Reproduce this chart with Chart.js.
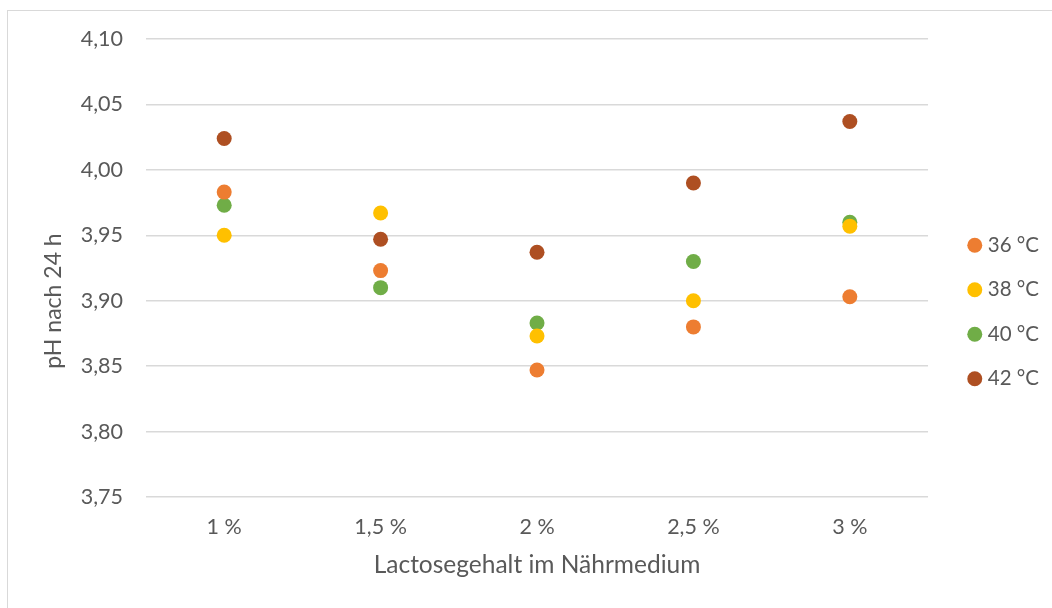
<!DOCTYPE html>
<html>
<head>
<meta charset="utf-8">
<script src="https://cdn.jsdelivr.net/npm/chart.js@4/dist/chart.umd.min.js"></script>
<style>
	html, body { margin: 0; padding: 0; background: #fff; }
	#frame {
		position: absolute; left: 7px; top: 10px;
		width: 1100px; height: 700px;
		border: 1px solid #d9d9d9;
	}
	#wrap { position: absolute; left: 0; top: 0; width: 1052px; height: 608px; }
</style>
</head>
<body>
<div id="frame"></div>
<div id="wrap"><canvas id="myChart"></canvas></div>
<script>
const categories = ['1 %', '1,5 %', '2 %', '2,5 %', '3 %'];
const seriesNames = ['36 °C', '38 °C', '40 °C', '42 °C'];
const ph36 = [3.983, 3.923, 3.847, 3.880, 3.903];
const ph38 = [3.950, 3.967, 3.873, 3.900, 3.957];
const ph40 = [3.973, 3.910, 3.883, 3.930, 3.960];
const ph42 = [4.024, 3.947, 3.937, 3.990, 4.037];
const yTicks = [3.75, 3.80, 3.85, 3.90, 3.95, 4.00, 4.05, 4.10];
const colors = ['#ED7D31', '#FFC000', '#70AD47', '#AE4F22'];

const font = 'Lato, "Open Sans", sans-serif';
const textColor = '#595959';
const yTitle = 'pH nach 24 h';

// y axis title, drawn a bit below the plot centre like in the original
const yTitlePlugin = {
	id: 'yTitle',
	afterDraw(chart) {
		const { ctx, chartArea } = chart;
		ctx.save();
		ctx.translate(54, (chartArea.top + chartArea.bottom) / 2 + 33);
		ctx.rotate(-Math.PI / 2);
		ctx.font = '23px ' + font;
		ctx.fillStyle = textColor;
		ctx.textAlign = 'center';
		ctx.textBaseline = 'middle';
		ctx.fillText(yTitle, 0, 0);
		ctx.restore();
	}
};

const datasets = [ph36, ph38, ph40, ph42].map((values, i) => ({
	label: seriesNames[i],
	data: values,
	showLine: false,
	backgroundColor: colors[i],
	borderColor: colors[i],
	pointRadius: 7.5,
	pointHoverRadius: 7.5,
	pointBorderWidth: 0
}));

new Chart(document.getElementById('myChart'), {
	type: 'line',
	data: { labels: categories, datasets: datasets },
	plugins: [yTitlePlugin],
	options: {
		responsive: true,
		maintainAspectRatio: false,
		animation: false,
		layout: { padding: { top: 16, right: 3, bottom: 0, left: 0 } },
		plugins: {
			tooltip: { enabled: false },
			// empty title only reserves the space above the plot
			title: { display: true, text: '', padding: 0, font: { size: 10, lineHeight: '23px' } },
			legend: {
				position: 'right',
				labels: {
					usePointStyle: true,
					pointStyle: 'circle',
					boxWidth: 5.5,
					boxHeight: 10.6,
					padding: 24,
					color: textColor,
					font: { family: font, size: 20.5 }
				}
			}
		},
		scales: {
			x: {
				offset: true,
				grid: { display: false, drawTicks: false },
				border: { display: false },
				afterFit: (scale) => { scale.height = 111; },
				ticks: { color: textColor, padding: 17, font: { family: font, size: 21.5 } },
				title: {
					display: true,
					text: 'Lactosegehalt im Nährmedium',
					color: textColor,
					padding: { top: 0, bottom: 28 },
					font: { family: font, size: 24.5 }
				}
			},
			y: {
				min: 3.75,
				max: 4.10,
				afterBuildTicks: (scale) => { scale.ticks = yTicks.map(v => ({ value: v })); },
				afterFit: (scale) => { scale.width = 146; },
				grid: { color: '#d9d9d9', lineWidth: 1.5, drawTicks: false },
				border: { display: false },
				ticks: {
					color: textColor,
					padding: 23,
					font: { family: font, size: 21.5 },
					callback: (v) => Number(v).toFixed(2).replace('.', ',')
				}
			},
			// spacer between plot and legend
			gap: {
				position: 'right',
				grid: { display: false, drawTicks: false },
				border: { display: false },
				ticks: { display: false },
				afterFit: (scale) => { scale.width = 20; }
			}
		}
	}
});
</script>
</body>
</html>
